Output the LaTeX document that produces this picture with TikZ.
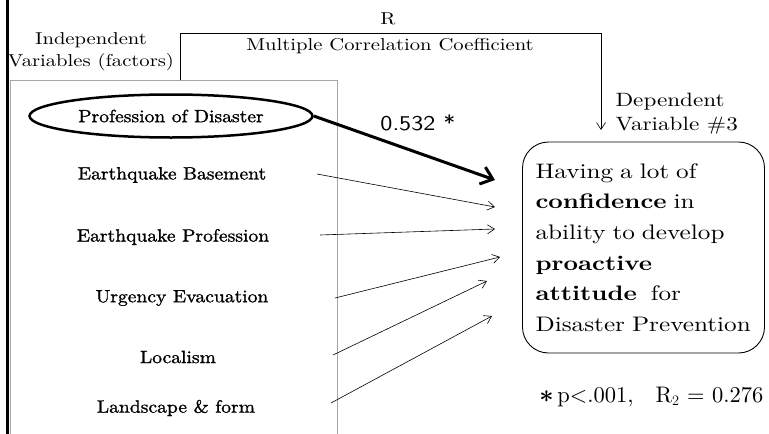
\documentclass[tikz,border=0pt]{standalone}
\usepackage{amsmath}
\usepackage{fontspec}
\setmainfont{lmroman10-regular.otf}[BoldFont=lmroman10-bold.otf, FakeStretch=1.2]
\setsansfont{lmsans10-regular.otf}[FakeStretch=1.15]
\newfontfamily\factorfont{lmroman10-regular.otf}[FakeStretch=1.1, FakeBold=1.2]
\newfontfamily\notefont{lmroman10-regular.otf}
\usetikzlibrary{
  positioning,
  arrows.meta,
  shapes.geometric
}
\tikzset{
  thin arrow/.style={-{Straight Barb[length=7pt,width=9pt]}, line width=0.6pt},
  bold arrow/.style={-{Straight Barb[length=11pt,width=18pt]}, line width=3pt},
  factor/.style={font=\factorfont\fontsize{17.8}{20}\selectfont},
  caption/.style={font=\fontsize{17.2}{22}\selectfont, align=center},
  goal/.style={draw, line width=0.9pt, rounded corners=26pt, align=left,
    minimum width=242pt, minimum height=211pt, text width=216pt,
    inner xsep=13pt, font=\fontsize{21}{30.7}\selectfont}
}

\begin{document}
\begin{tikzpicture}[x=1pt, y=-1pt]
    \useasboundingbox (0,0) rectangle (769,434);

    % frame of the factors
    \draw[line width=3pt] (7,0) -- (7,434);
    \draw[gray!70, line width=0.8pt] (10,434) -- (10,80) -- (337,80) -- (337,434);

    % factors
    \node[factor, ellipse, draw, line width=2.5pt, inner sep=0pt,
          minimum width=283pt, minimum height=43pt] (dis) at (171,116) {Profession of Disaster};
    \node[factor] (base) at (172,175) {Earthquake Basement};
    \node[factor] (prof) at (173,237) {Earthquake Profession};
    \node[factor] (urg)  at (182,298) {Urgency Evacuation};
    \node[factor] (loc)  at (178,357) {Localism};
    \node[factor] (land) at (176,408) {Landscape \& form};

    % captions
    \node[caption] (indep) at (91,52) {Independent\\Variables (factors)};
    \node[caption] (r)     at (388,19) {R};
    \node[caption] (mcc)   at (390,46) {Multiple Correlation Coefficient};
    \node[caption, font=\fontsize{19.3}{24}\selectfont, align=left, anchor=west]
      (dep) at (612,114) {Dependent\\Variable \#3};
    \node[font=\sffamily\fontsize{21}{24}\selectfont] (coef) at (418,123) {0.532 *};

    % dependent variable
    \node[goal] (conf) at (643.5,247.5) {Having a lot of\\
      \textbf{confidence} in\\
      ability to develop\\
      \textbf{proactive}\\
      \textbf{attitude}\ \ for\\
      Disaster Prevention};

    \node[font=\notefont\fontsize{22.5}{26}\selectfont, anchor=east] (note) at (767,397)
      {{\fontsize{28}{28}\selectfont\boldmath$\ast$}\,p\textless.001,\hspace{22pt}R$_2$ = 0.276};

    % ends of the connectors
    \coordinate (brk) at (180,80);
    \coordinate (tdep) at (601,130);
    \coordinate (s1) at (317,174);
    \coordinate (s2) at (320,235);
    \coordinate (s3) at (335,298);
    \coordinate (s4) at (333,355);
    \coordinate (s5) at (331,403);
    \coordinate (t0) at (495,180);
    \coordinate (t1) at (495,207);
    \coordinate (t2) at (495,229);
    \coordinate (t3) at (500,257);
    \coordinate (t4) at (487,281);
    \coordinate (t5) at (492,316);

    % connectors
    \draw[thin arrow] (brk) -- ++(0,-47) -| (tdep);
    \draw[bold arrow] (dis.east) -- (t0);
    \draw[thin arrow] (s1) -- (t1);
    \draw[thin arrow] (s2) -- (t2);
    \draw[thin arrow] (s3) -- (t3);
    \draw[thin arrow] (s4) -- (t4);
    \draw[thin arrow] (s5) -- (t5);
\end{tikzpicture}
\end{document}
